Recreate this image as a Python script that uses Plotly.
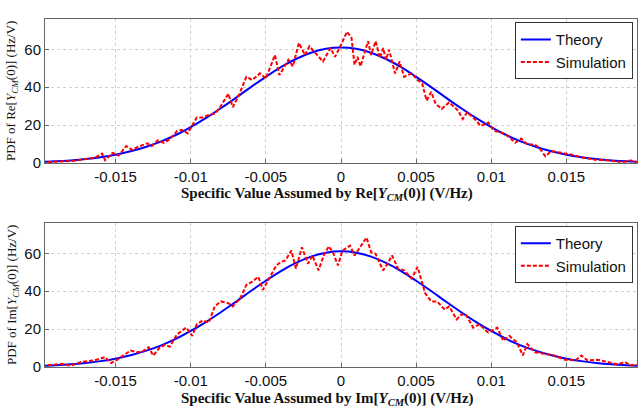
import plotly.graph_objects as go

# Theory curve (read at 0.001 steps)
theory_x = [i / 1000 for i in range(-20, 21)]
theory_y_half = [61.0, 60.3, 58.2, 54.9, 50.6, 45.5, 40.1, 34.4, 28.9, 23.7, 19.0,
                 14.8, 11.3, 8.5, 6.2, 4.4, 3.1, 2.1, 1.4, 0.9, 0.6]
theory_y = theory_y_half[:0:-1] + theory_y_half

# Simulation, top panel (Re)
sim_re_x = [-0.0195, -0.01775, -0.0171, -0.0164, -0.0159, -0.0157, -0.0152, -0.0148, -0.0143,
            -0.0139, -0.0135, -0.0129, -0.0126, -0.0122, -0.0118, -0.0114, -0.0109, -0.0106,
            -0.0102, -0.0096, -0.0092, -0.0088, -0.0084, -0.0080, -0.0075, -0.0072, -0.0068,
            -0.0063, -0.0059, -0.0054, -0.0050, -0.0044, -0.0041, -0.0035, -0.0032, -0.0028,
            -0.0024, -0.0021, -0.0017, -0.0012, -0.0007, -0.0004, -0.0001, 0.0004, 0.0007,
            0.0009, 0.0011, 0.0013, 0.0018, 0.0020, 0.0023, 0.0026, 0.0028, 0.0030, 0.0032,
            0.0036, 0.0039, 0.0042, 0.0047, 0.0051, 0.0054, 0.0057, 0.0060, 0.0063, 0.0067,
            0.0072, 0.0078, 0.0081, 0.0084, 0.0089, 0.0093, 0.0098, 0.0102, 0.0107, 0.0111,
            0.0116, 0.0120, 0.0124, 0.0129, 0.0132, 0.0136, 0.0140, 0.0147, 0.0153, 0.0162,
            0.0169, 0.0178, 0.0187, 0.0193, 0.0197]
sim_re_y = [0.5, 1.2, 2.0, 2.7, 5.0, 1.5, 5.4, 4.0, 9.0,
            7.0, 8.6, 10.4, 9.0, 12.0, 10.7, 12.5, 17.0, 17.5,
            15.7, 24.0, 24.0, 25.4, 26.0, 30.0, 36.6, 29.5, 35.7,
            45.5, 43.8, 47.3, 44.6, 57.0, 46.4, 54.5, 51.0, 63.4,
            57.0, 61.6, 58.0, 53.6, 60.7, 56.0, 60.7, 69.3, 66.0,
            51.8, 56.0, 51.0, 64.3, 57.0, 64.3, 55.4, 60.7, 54.5, 59.8,
            47.3, 53.6, 45.5, 47.3, 43.8, 42.0, 33.0, 37.5, 31.3, 28.6,
            32.0, 27.7, 23.2, 26.8, 23.2, 19.6, 21.4, 17.0, 16.0, 14.3,
            10.7, 12.9, 9.8, 9.8, 8.0, 3.6, 6.3, 5.4, 4.5, 2.7,
            1.8, 1.4, 0.5, 1.4, 0.4]

# Simulation, bottom panel (Im)
sim_im_x = [-0.0195, -0.0186, -0.0180, -0.0173, -0.0164, -0.0157, -0.0153, -0.0149, -0.0145,
            -0.0140, -0.0136, -0.0132, -0.0128, -0.0125, -0.0121, -0.0117, -0.0114, -0.0109,
            -0.0106, -0.0103, -0.0099, -0.0096, -0.0092, -0.0088, -0.0084, -0.0080, -0.0075,
            -0.0072, -0.0067, -0.0063, -0.0059, -0.0055, -0.0052, -0.0048, -0.0043, -0.0040,
            -0.0037, -0.0033, -0.0030, -0.0026, -0.0022, -0.0019, -0.0015, -0.0011, -0.0008,
            -0.0005, -0.0002, 0.0001, 0.0006, 0.0009, 0.0012, 0.0017, 0.0020, 0.0023, 0.0028,
            0.0031, 0.0034, 0.0038, 0.0042, 0.0047, 0.0051, 0.0056, 0.0060, 0.0064, 0.0069,
            0.0072, 0.0077, 0.0080, 0.0083, 0.0088, 0.0092, 0.0098, 0.0104, 0.0108, 0.0112,
            0.0117, 0.0121, 0.0124, 0.0129, 0.0136, 0.0142, 0.0149, 0.0156, 0.0160, 0.0164,
            0.0171, 0.0178, 0.0184, 0.0189, 0.0193, 0.0197]
sim_im_y = [0.9, 1.7, 0.7, 2.6, 3.5, 5.2, 2.1, 3.8, 6.0,
            8.7, 7.8, 8.3, 10.4, 6.0, 10.0, 11.8, 10.7, 17.3,
            19.0, 20.8, 16.4, 22.5, 24.6, 23.4, 32.0, 34.6, 33.7,
            32.0, 36.3, 43.3, 45.0, 47.6, 40.7, 46.7, 53.6, 55.4,
            56.2, 61.4, 51.9, 63.1, 54.5, 58.8, 51.0, 59.7, 63.7,
            59.7, 53.6, 61.4, 64.0, 58.8, 62.3, 68.3, 60.6, 59.7, 51.0,
            54.5, 58.8, 51.9, 51.0, 46.7, 52.8, 38.9, 34.6, 34.6, 30.3,
            32.0, 25.1, 27.7, 27.7, 20.8, 22.5, 18.2, 20.8, 13.8, 16.4,
            13.0, 6.1, 12.1, 7.8, 6.9, 6.1, 3.8, 3.5, 6.1, 3.5,
            3.8, 2.6, 1.4, 2.6, 0.9, 1.2]

x_ticks = [-0.015, -0.01, -0.005, 0, 0.005, 0.01, 0.015]
x_tick_labels = ["-0.015", "-0.01", "-0.005", "0", "0.005", "0.01", "0.015"]
y_ticks = [0, 20, 40, 60]

BLUE = "#0000ff"
RED = "#ff0000"

fig = go.Figure()
for row, (sx, sy, lg) in enumerate([(sim_re_x, sim_re_y, "legend"), (sim_im_x, sim_im_y, "legend2")], start=1):
    xa = "x" if row == 1 else "x2"
    ya = "y" if row == 1 else "y2"
    fig.add_trace(go.Scatter(x=theory_x, y=theory_y, mode="lines", name="Theory",
                             line=dict(color=BLUE, width=2, shape="spline"),
                             xaxis=xa, yaxis=ya, legend=lg))
    fig.add_trace(go.Scatter(x=sx, y=sy, mode="lines", name="Simulation",
                             line=dict(color=RED, width=2, dash="4px,2px"),
                             xaxis=xa, yaxis=ya, legend=lg))

tickfont = dict(family="Liberation Sans, Arial", size=15, color="#111")
axis_common = dict(showline=True, linecolor="#666", linewidth=1, mirror=True,
                   ticks="inside", ticklen=4, tickcolor="#666",
                   showgrid=True, gridcolor="#d0d0d0", griddash="dot", gridwidth=1,
                   zeroline=False, tickfont=tickfont)

legend_common = dict(xanchor="right", yanchor="top",
                     bgcolor="white", bordercolor="#333", borderwidth=1,
                     font=dict(family="Liberation Sans, Arial", size=15, color="#111"),
                     tracegroupgap=0, itemwidth=30)

fig.update_layout(
    width=643, height=408,
    margin=dict(l=45, r=6, t=19, b=41),
    plot_bgcolor="white", paper_bgcolor="white",
    xaxis=dict(domain=[0, 1], anchor="y", range=[-0.0197, 0.0197],
               tickvals=x_ticks, ticktext=x_tick_labels, **axis_common),
    yaxis=dict(domain=[0.586, 1], anchor="x", range=[0, 76], tickvals=y_ticks, **axis_common),
    xaxis2=dict(domain=[0, 1], anchor="y2", range=[-0.0197, 0.0197],
                tickvals=x_ticks, ticktext=x_tick_labels, **axis_common),
    yaxis2=dict(domain=[0, 0.414], anchor="x2", range=[0, 76], tickvals=y_ticks, **axis_common),
    legend=dict(x=0.993, y=0.991, **legend_common),
    legend2=dict(x=0.993, y=0.405, **legend_common),
    showlegend=True,
)

serif_x = dict(family="Liberation Serif, Times New Roman", size=15, color="#111")
serif_y = dict(family="Liberation Serif, Times New Roman", size=13, color="#111")
fig.update_layout(annotations=[
    dict(text="<b>Specific Value Assumed by Re[<i>Y</i><sub><i>CM</i></sub>(0)] (V/Hz)</b>",
         xref="paper", yref="paper", x=(327 - 45) / 592, y=(367 - 194) / 348,
         xanchor="center", yanchor="middle", showarrow=False, font=serif_x),
    dict(text="<b>Specific Value Assumed by Im[<i>Y</i><sub><i>CM</i></sub>(0)] (V/Hz)</b>",
         xref="paper", yref="paper", x=(327 - 45) / 592, y=(367 - 399) / 348,
         xanchor="center", yanchor="middle", showarrow=False, font=serif_x),
    dict(text="PDF of Re[<i>Y</i><sub><i>CM</i></sub>(0)] (Hz/V)",
         xref="paper", yref="paper", x=(12 - 45) / 592, y=(367 - 91) / 348,
         xanchor="center", yanchor="middle", textangle=-90, showarrow=False, font=serif_y),
    dict(text="PDF of Im[<i>Y</i><sub><i>CM</i></sub>(0)] (Hz/V)",
         xref="paper", yref="paper", x=(12 - 45) / 592, y=(367 - 295) / 348,
         xanchor="center", yanchor="middle", textangle=-90, showarrow=False, font=serif_y),
])

fig.write_html("out.html")
